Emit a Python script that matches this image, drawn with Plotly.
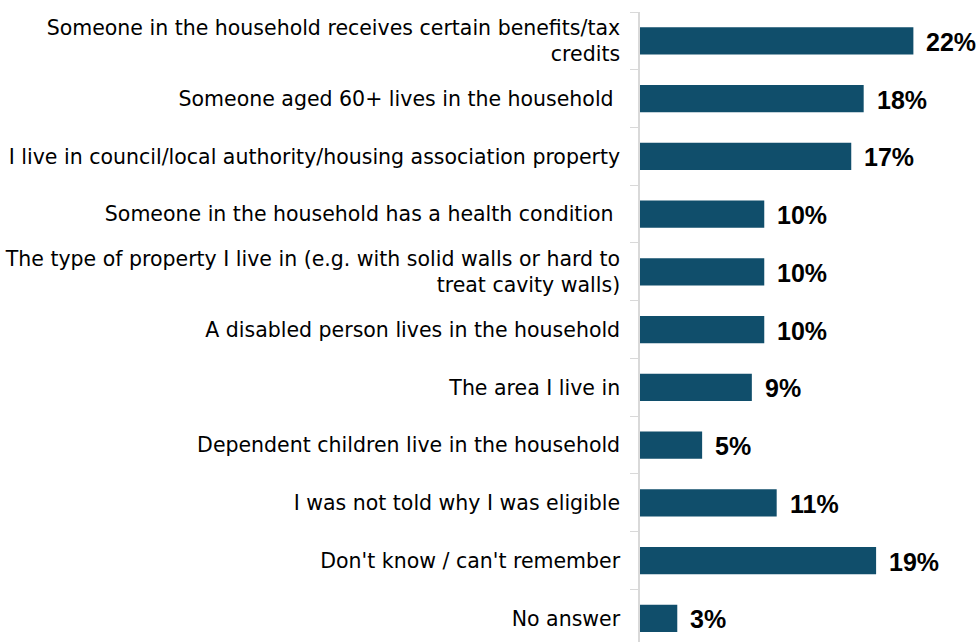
import plotly.graph_objects as go

categories = [
    "Someone in the household receives certain benefits/tax<br>credits",
    "Someone aged 60+ lives in the household ",
    "I live in council/local authority/housing association property",
    "Someone in the household has a health condition ",
    "The type of property I live in (e.g. with solid walls or hard to<br>treat cavity walls)",
    "A disabled person lives in the household",
    "The area I live in",
    "Dependent children live in the household",
    "I was not told why I was eligible",
    "Don't know / can't remember",
    "No answer",
]
values = [22, 18, 17, 10, 10, 10, 9, 5, 11, 19, 3]
value_labels = [f"{v}%" for v in values]

BAR = "#104E6B"
LABEL_FONT = "DejaVu Sans, Liberation Sans, Arial"
VALUE_FONT = "Liberation Sans, Arial"

fig = go.Figure(
    go.Bar(
        x=values,
        y=categories,
        orientation="h",
        marker=dict(color=BAR, line=dict(width=0)),
        width=0.47,
        hoverinfo="skip",
    )
)

# value labels placed just past the end of each bar
for cat, val, lab in zip(categories, values, value_labels):
    fig.add_annotation(
        x=val, y=cat, text=lab,
        xref="x", yref="y",
        xanchor="left", yanchor="middle",
        xshift=11, yshift=-1,
        showarrow=False,
        font=dict(family=VALUE_FONT, size=25, color="#000000", weight="bold"),
    )

fig.update_layout(
    width=978,
    height=642,
    margin=dict(l=640, r=0, t=12, b=0),
    paper_bgcolor="white",
    plot_bgcolor="white",
    showlegend=False,
    font=dict(family=LABEL_FONT, size=20.5, color="#000000"),
)

fig.update_xaxes(
    range=[0, 27.2],
    visible=False,
    showgrid=False,
    zeroline=False,
)

fig.update_yaxes(
    type="category",
    categoryorder="array",
    categoryarray=categories,
    range=[10.41, -0.5],
    showline=True,
    linecolor="#D9D9D9",
    linewidth=1.5,
    ticks="outside",
    tickson="boundaries",
    ticklen=8,
    tickcolor="#D9D9D9",
    tickwidth=1,
    ticklabelstandoff=14,
    showgrid=False,
    tickfont=dict(family=LABEL_FONT, size=20.5, color="#000000"),
)

fig.write_html("out.html")
